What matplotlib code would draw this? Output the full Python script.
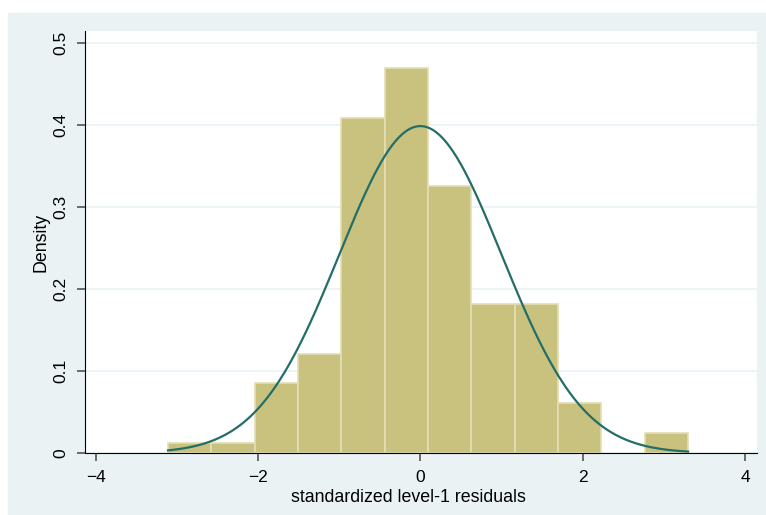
import numpy as np
import matplotlib
matplotlib.use("Agg")
import matplotlib.pyplot as plt
from matplotlib.patches import Rectangle

plt.rcParams['font.family'] = ['Liberation Sans', 'DejaVu Sans']

# histogram bins (12 bins) and densities
bin_lo, bin_hi = -3.108, 3.296
densities = [0.012, 0.012, 0.085, 0.121, 0.409, 0.470, 0.326, 0.182, 0.182, 0.061, 0.0, 0.024]
# normal overlay
mu, sigma = 0.0, 1.0

x_ticks = [-4, -2, 0, 2, 4]
y_ticks = [0, 0.1, 0.2, 0.3, 0.4, 0.5]
y_ticklabels = ['0', '0.1', '0.2', '0.3', '0.4', '0.5']

bg = '#eaf2f3'
edges = np.linspace(bin_lo, bin_hi, len(densities) + 1)
dens = np.array(densities)
keep = dens > 0

fig = plt.figure(figsize=(7.66, 5.15), dpi=100)
fig.patches.append(Rectangle((8 / 766, 0), 1 - 8 / 766, 1 - 13 / 515,
                             transform=fig.transFigure, color=bg, zorder=-10))
ax = fig.add_axes([85 / 766, 1 - 453 / 515, (757 - 85) / 766, (453 - 31) / 515])

ax.bar(edges[:-1][keep], dens[keep], width=np.diff(edges)[keep], align='edge',
       color='#c9c27f', edgecolor='#e3deb4', linewidth=1.2, zorder=2)

xs = np.linspace(bin_lo, bin_hi, 300)
ax.plot(xs, np.exp(-0.5 * ((xs - mu) / sigma) ** 2) / (sigma * np.sqrt(2 * np.pi)),
        color='#236e66', linewidth=1.6, zorder=3)

ax.set_xlim(-4.13, 4.145)
ax.set_ylim(0, 0.515)
ax.set_xticks(x_ticks)
ax.set_xticklabels(['\u22124', '\u22122', '0', '2', '4'])
ax.set_yticks(y_ticks)
ax.set_yticklabels(y_ticklabels, rotation=90, va='center')
ax.grid(axis='y', color=bg, linewidth=1.2, zorder=0)
ax.set_axisbelow(True)

for s in ['top', 'right']:
    ax.spines[s].set_visible(False)
ax.spines['left'].set_color('black')
ax.spines['bottom'].set_color('black')
ax.tick_params(axis='both', direction='out', length=6, width=1.2, color='#555555',
               labelsize=12.5, pad=6)

ax.set_xlabel('standardized level-1 residuals', fontsize=12.8, labelpad=4)
ax.xaxis.set_label_coords(0.482, -0.085)
ax.set_ylabel('Density', fontsize=12.8, labelpad=3)

fig.savefig('out.png', dpi=100)
